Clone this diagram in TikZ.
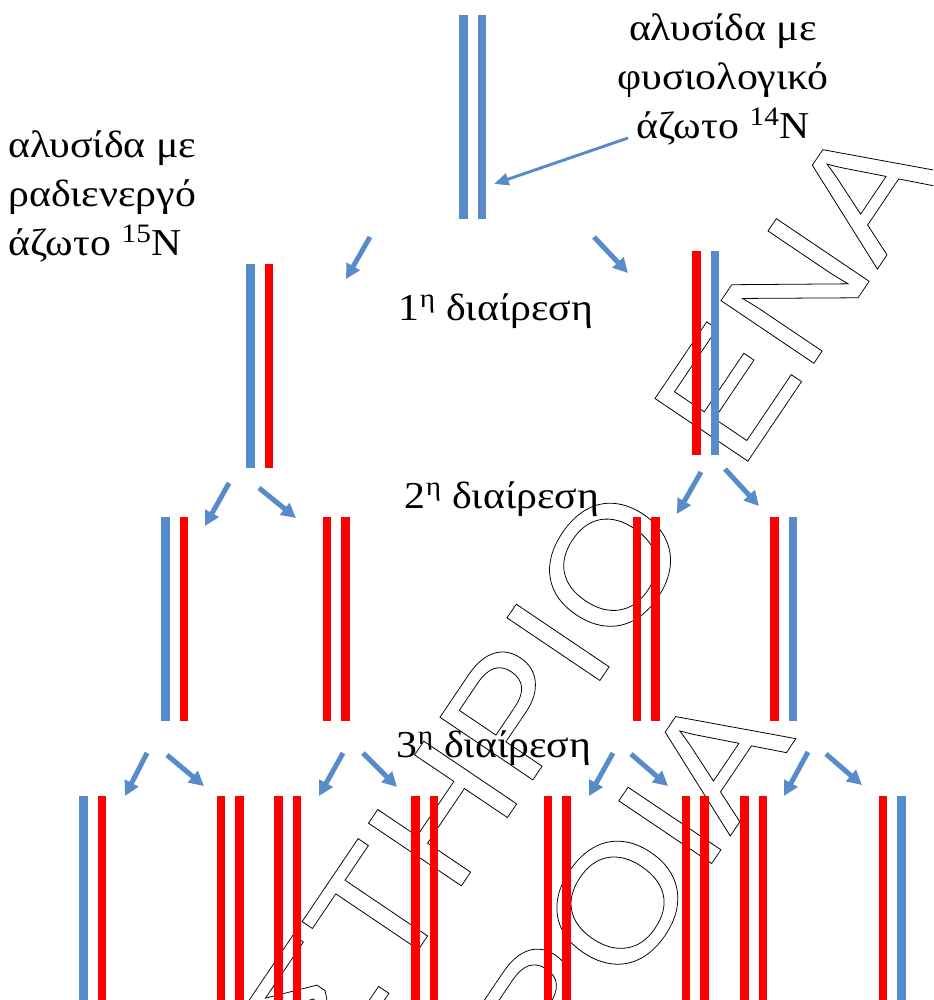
\documentclass[tikz,border=0pt]{standalone}
\usepackage{fontspec}
\setmainfont{Liberation Serif}[FakeStretch = 1.1]
\newfontfamily\wmfont{Liberation Sans}
\usetikzlibrary{arrows.meta,calc}
\definecolor{dnablue}{RGB}{87,139,202}
\definecolor{dnared}{RGB}{255,0,0}
\newcommand{\hollow}[1]{\special{pdf:literal 1 Tr 0.6 w}#1\special{pdf:literal 0 Tr}}

\begin{document}
\begin{tikzpicture}[x = 0.75pt, y = -0.75pt,
    strand/.style = {inner sep = 0pt, minimum width = 6.4pt, minimum height = 153pt, anchor = north},
    lbl/.style = {inner sep = 0pt, font = \fontsize{28.5}{34}\selectfont},
    wm/.style = {inner sep = 0pt, rotate = 56, yscale = 0.92, transform shape, font = \wmfont\fontsize{132.75}{140}\selectfont},
    div/.style = {draw = dnablue, line width = 3.75pt, -{Triangle[length = 11pt, width = 11pt]}},
    ptr/.style = {draw = dnablue, line width = 2.2pt, -{Triangle[length = 11pt, width = 9pt]}}]
  \useasboundingbox (0,0) rectangle (933,1000);

  % watermark behind everything
  \begin{scope}
    \clip (0,0) rectangle (933,1000);
    \node [wm, anchor = base east] (wm1) at (695.4, 538.9) {\hollow{ΣΤΗΡΙΟ}};
    \node [wm, anchor = base west] (wm2) at (739.6, 473.4) {\hollow{ΕΝΑ}};
    \node [wm, anchor = base east] (wm3) at (796.2, 738.2) {\hollow{ΡΟΙΑ}};
  \end{scope}

  % DNA molecules: name / x of left strand / top / colours
  \foreach \nm/\xc/\yt/\ca/\cb in {m0/463.5/15/dnablue/dnablue,
      m1a/250.5/264/dnablue/dnared, m1b/696.5/251/dnared/dnablue,
      m2a/165.5/517/dnablue/dnared, m2b/327/517/dnared/dnared,
      m2c/637/517/dnared/dnared, m2d/774.5/517/dnared/dnablue,
      m3a/83.5/796/dnablue/dnared, m3b/221/796/dnared/dnared,
      m3c/278.5/796/dnared/dnared, m3d/415.5/796/dnared/dnared,
      m3e/548/796/dnared/dnared, m3f/686/796/dnared/dnared,
      m3g/744.5/796/dnared/dnared, m3h/883/796/dnared/dnablue}
    {
      \node [strand, fill = \ca] (\nm-l) at (\xc, \yt) {};
      \node [strand, fill = \cb] (\nm-r) at (\xc + 18.5, \yt) {};
    }

  % division arrows
  \foreach \nm/\xa/\ya/\xb/\yb in {a0l/370/237/346/279, a0r/594/237/628/273,
      a1al/229/483/205/526, a1ar/259/488/296/518,
      a1bl/701/472/677/514, a1br/725/469/759/506,
      a2al/147/753/125/796, a2ar/167/755/204/786,
      a2bl/343/753/319/796, a2br/363/753/397/787,
      a2cl/613/753/589/796, a2cr/631/754/668/786,
      a2dl/808/752/784/796, a2dr/826/754/862/785}
    {
      \coordinate (\nm-s) at (\xa, \ya);
      \coordinate (\nm-e) at (\xb, \yb);
      \draw [div] (\nm-s) -- (\nm-e);
    }

  % labels
  \node [lbl, anchor = base west] (l15a) at (8, 157) {αλυσίδα με};
  \node [lbl, anchor = base west] (l15b) at (8, 206) {ραδιενεργό};
  \node [lbl, anchor = base west] (l15c) at (8, 255) {άζωτο \textsuperscript{15}N};

  \node [lbl, anchor = base] (l14a) at (723, 40) {αλυσίδα με};
  \node [lbl, anchor = base] (l14b) at (723, 89) {φυσιολογικό};
  \node [lbl, anchor = base] (l14c) at (723, 138) {άζωτο \textsuperscript{14}N};

  \coordinate (ptr-e) at (494, 184);
  \draw [ptr] ($ (l14c.base west) + (-8, 0) $) -- (ptr-e);

  \node [lbl, anchor = base] (d1) at (496, 320) {1\textsuperscript{η} διαίρεση};
  \node [lbl, anchor = base] (d2) at (502, 508) {2\textsuperscript{η} διαίρεση};
  \node [lbl, anchor = base] (d3) at (494, 757) {3\textsuperscript{η} διαίρεση};
\end{tikzpicture}
\end{document}
